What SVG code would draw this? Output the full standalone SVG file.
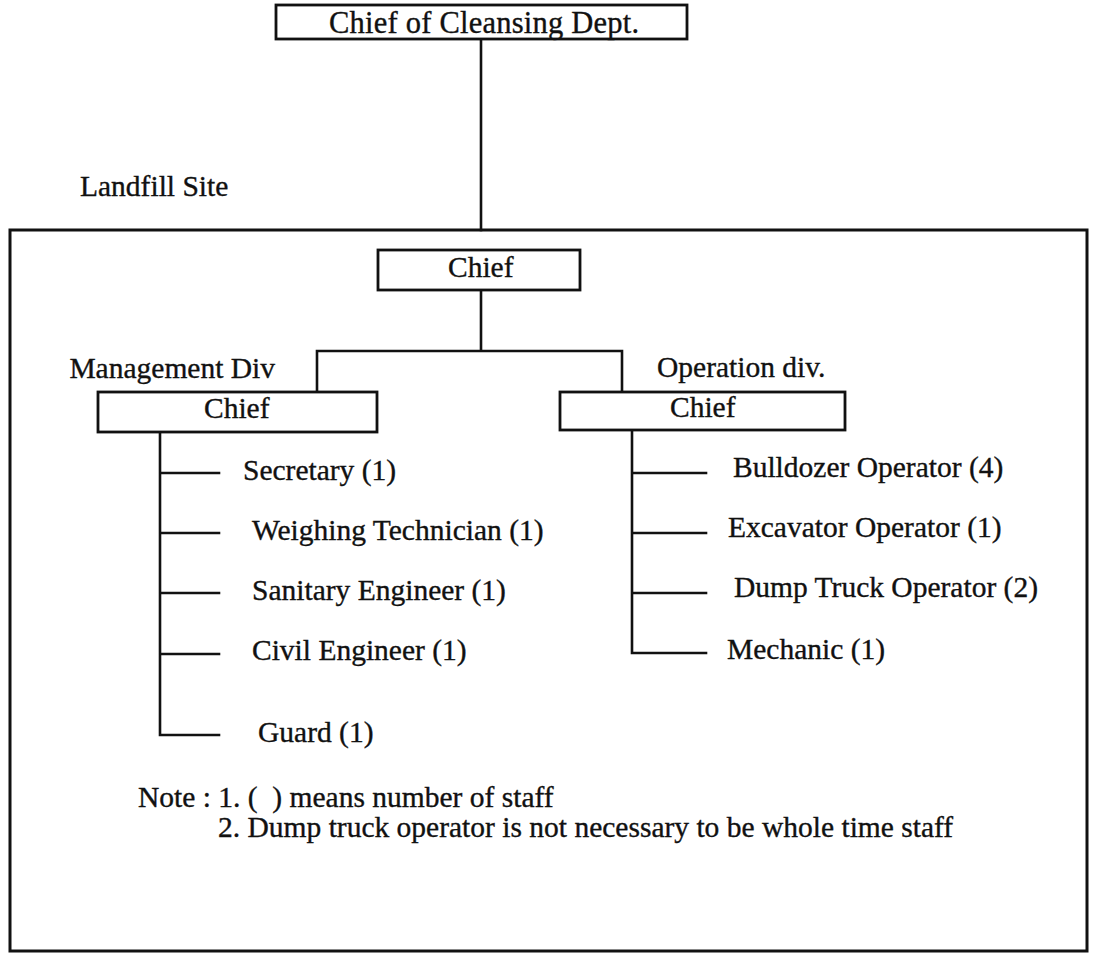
<svg xmlns="http://www.w3.org/2000/svg" width="1094" height="957" viewBox="0 0 1094 957">
<style>
.t{font-family:"Liberation Serif","Times New Roman",serif;font-size:29.5px;fill:#111;stroke:#111;stroke-width:0.35}
.box{fill:#fff;stroke:#111;stroke-width:2.8}
.ln{fill:none;stroke:#111;stroke-width:2.6;stroke-linecap:square}
</style>
<rect width="1094" height="957" fill="#fff"/>
<g id="landfill-site">
<rect x="10" y="230" width="1077" height="721" fill="none" stroke="#111" stroke-width="3"/>
<text class="t" x="80" y="196">Landfill Site</text>
</g>
<g id="connectors">
<path class="ln" d="M481 39V230"/>
<path class="ln" d="M481 290V351M317 351H622M317 351V392M622 351V392"/>
<path class="ln" d="M160 432V735M160 473H219M160 533H219M160 593H219M160 654H219M160 735H219"/>
<path class="ln" d="M632 430V653M632 473H706M632 533H706M632 593H706M632 653H706"/>
</g>
<g id="chief-cleansing">
<rect class="box" x="276" y="5" width="411" height="34"/>
<text class="t" x="329" y="33" textLength="310" style="font-size:30.5px">Chief of Cleansing Dept.</text>
</g>
<g id="site-chief">
<rect class="box" x="378" y="250" width="202" height="40"/>
<text class="t" x="448" y="277">Chief</text>
</g>
<g id="management-div">
<text class="t" x="275" y="378" text-anchor="end">Management Div</text>
<rect class="box" x="98" y="392" width="279" height="40"/>
<text class="t" x="204" y="418">Chief</text>
</g>
<g id="operation-div">
<text class="t" x="657" y="377">Operation div.</text>
<rect class="box" x="560" y="392" width="285" height="38"/>
<text class="t" x="670" y="417">Chief</text>
</g>
<g id="management-staff">
<text class="t" x="243" y="480">Secretary (1)</text>
<text class="t" x="252" y="540">Weighing Technician (1)</text>
<text class="t" x="252" y="600">Sanitary Engineer (1)</text>
<text class="t" x="252" y="660">Civil Engineer (1)</text>
<text class="t" x="258" y="742">Guard (1)</text>
</g>
<g id="operation-staff">
<text class="t" x="733" y="477">Bulldozer Operator (4)</text>
<text class="t" x="728" y="537">Excavator Operator (1)</text>
<text class="t" x="734" y="597">Dump Truck Operator (2)</text>
<text class="t" x="727" y="659">Mechanic (1)</text>
</g>
<g id="notes">
<text class="t" x="138" y="807" xml:space="preserve">Note : 1. (  ) means number of staff</text>
<text class="t" x="218" y="837">2. Dump truck operator is not necessary to be whole time staff</text>
</g>
</svg>
